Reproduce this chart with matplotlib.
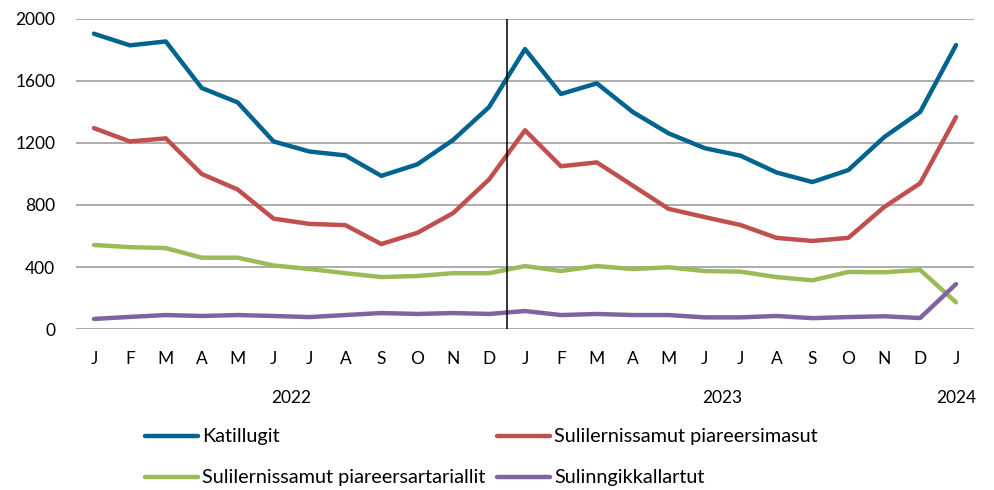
import matplotlib
matplotlib.use("Agg")
import matplotlib.pyplot as plt
from matplotlib.lines import Line2D
import matplotlib.transforms as mtransforms

months = ["J", "F", "M", "A", "M", "J", "J", "A", "S", "O", "N", "D",
          "J", "F", "M", "A", "M", "J", "J", "A", "S", "O", "N", "D", "J"]
years = ["2022", "2023", "2024"]
year_pos = [5.5, 17.5, 24]

katillugit = [1905, 1830, 1855, 1555, 1462, 1210, 1145, 1120, 988, 1062, 1220, 1432,
              1806, 1516, 1585, 1400, 1262, 1167, 1118, 1010, 948, 1025, 1238, 1400, 1832]
piareersimasut = [1296, 1210, 1230, 1000, 900, 712, 678, 670, 548, 620, 748, 965,
                  1282, 1050, 1075, 925, 775, 722, 671, 588, 568, 588, 787, 940, 1367]
piareersartariallit = [542, 528, 522, 460, 460, 410, 387, 360, 335, 342, 360, 360,
                       406, 374, 406, 387, 398, 374, 370, 335, 314, 368, 366, 381, 172]
sulinngikkallartut = [65, 78, 90, 84, 90, 84, 77, 90, 103, 97, 103, 97,
                      116, 90, 97, 90, 90, 75, 75, 84, 70, 77, 82, 71, 290]

labels = ["Katillugit", "Sulilernissamut piareersimasut",
          "Sulilernissamut piareersartariallit", "Sulinngikkallartut"]
colors = ["#00648F", "#C0504D", "#9BBB59", "#8064A2"]
series = [katillugit, piareersimasut, piareersartariallit, sulinngikkallartut]

plt.rcParams['font.family'] = ['Lato', 'DejaVu Sans']

fig = plt.figure(figsize=(9.95, 4.9), dpi=100)
ax = fig.add_axes([76/995, 1 - 329/490, (974-76)/995, (329-19)/490])

x = list(range(len(months)))
for s, c in zip(series, colors):
    ax.plot(x, s, color=c, lw=3.2, solid_capstyle='round', solid_joinstyle='round', zorder=3)

ax.set_xlim(-0.5, 24.5)
ax.set_ylim(0, 2000)
ax.set_yticks(range(0, 2001, 400))
ax.yaxis.grid(True, color="#a6a6a6", lw=1.3)
ax.set_axisbelow(True)
for sp in ax.spines.values():
    sp.set_visible(False)
ax.tick_params(axis='y', length=0, pad=15, labelsize=12.5)
ax.set_xticks(x)
ax.set_xticklabels(months)
ax.tick_params(axis='x', length=0, pad=16, labelsize=12.5)

ax.axvline(11.5, ymin=0, ymax=1, color="black", lw=1.1, zorder=4)

trans = mtransforms.blended_transform_factory(ax.transData, fig.transFigure)
for yl, xp in zip(years, year_pos):
    ax.text(xp, 1 - 398/490, yl, transform=trans, ha='center', va='center', fontsize=12.5)

# legend (manual)
leg_pos = [(145, 436), (497, 436), (145, 477), (497, 477)]
for (px, py), lab, c in zip(leg_pos, labels, colors):
    yy = 1 - py/490
    fig.add_artist(Line2D([px/995, (px+53)/995], [yy, yy], color=c, lw=3.2,
                          solid_capstyle='round', transform=fig.transFigure))
    fig.text((px+57)/995, yy, lab, ha='left', va='center', fontsize=14.3)

fig.savefig("out.png", dpi=100)
